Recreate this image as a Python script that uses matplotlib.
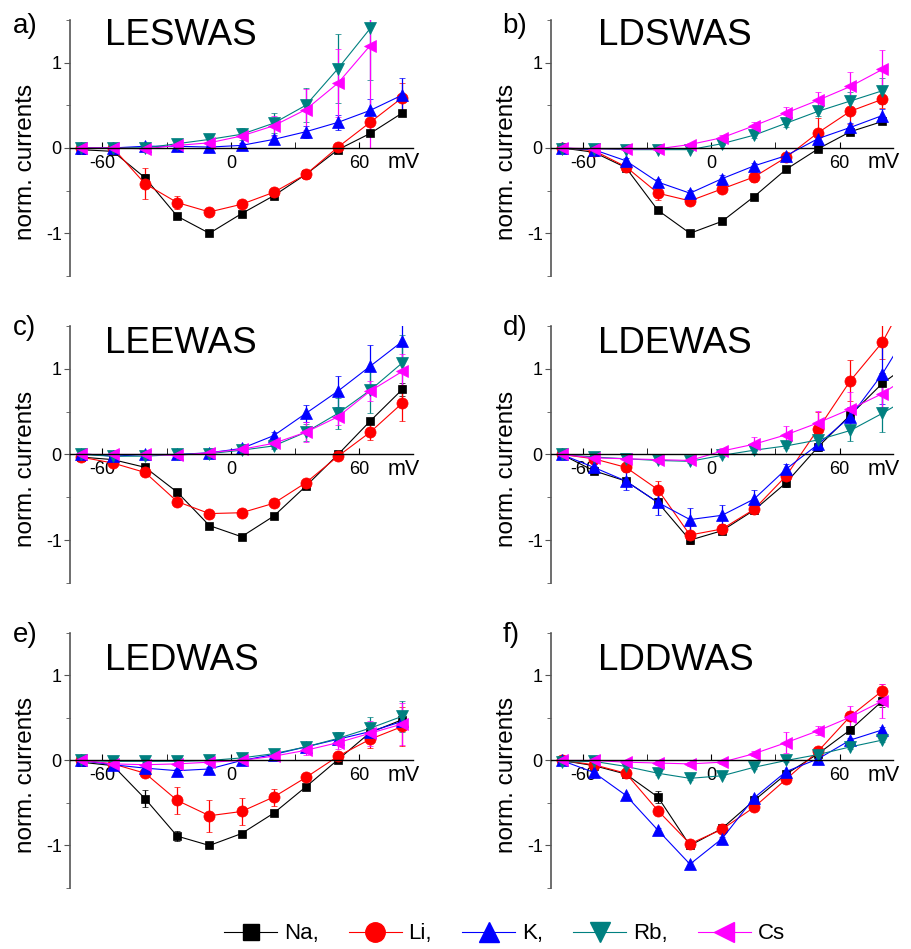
import matplotlib
matplotlib.use('Agg')
import matplotlib.pyplot as plt
from matplotlib.lines import Line2D
from matplotlib.ticker import MultipleLocator

plt.rcParams['font.family'] = ['Liberation Sans', 'DejaVu Sans']
plt.rcParams['axes.unicode_minus'] = False

# membrane potential steps (mV)
volts = [-70, -55, -40, -25, -10, 5, 20, 35, 50, 65, 80]
volts_d = volts + [95]  # panel d lines run past the right edge

ions = ['Na', 'Li', 'K', 'Rb', 'Cs']
labels = ['Na,', 'Li,', 'K,', 'Rb,', 'Cs']
colors = ['black', '#FF0000', '#0000FF', '#008080', '#FF00FF']
markers = ['s', 'o', '^', 'v', '<']
msizes = [6, 8, 8, 8, 8]

titles = ['LESWAS', 'LDSWAS', 'LEEWAS', 'LDEWAS', 'LEDWAS', 'LDDWAS']
tags = ['a)', 'b)', 'c)', 'd)', 'e)', 'f)']

# a) LESWAS
a_mean = {
    'Na': [-0.02, -0.04, -0.35, -0.80, -1.00, -0.77, -0.56, -0.31, -0.02, 0.17, 0.41],
    'Li': [0.0, 0.0, -0.42, -0.64, -0.75, -0.66, -0.52, -0.31, 0.01, 0.30, 0.59],
    'K': [0.0, 0.0, 0.02, 0.02, 0.01, 0.03, 0.10, 0.19, 0.30, 0.44, 0.62],
    'Rb': [0.0, 0.0, 0.0, 0.05, 0.10, 0.16, 0.29, 0.50, 0.93, 1.40],
    'Cs': [0.0, 0.0, -0.01, 0.03, 0.06, 0.14, 0.26, 0.45, 0.76, 1.20],
}
a_err = {
    'Na': [0.02, 0.02, 0.05, 0.03, 0.02, 0.02, 0.02, 0.03, 0.02, 0.03, 0.03],
    'Li': [0.02, 0.02, 0.18, 0.08, 0.03, 0.03, 0.04, 0.05, 0.03, 0.10, 0.17],
    'K': [0.02, 0.02, 0.02, 0.02, 0.02, 0.03, 0.05, 0.07, 0.09, 0.13, 0.20],
    'Rb': [0.02, 0.02, 0.02, 0.04, 0.05, 0.07, 0.12, 0.20, 0.40, 0.60],
    'Cs': [0.02, 0.02, 0.02, 0.03, 0.04, 0.08, 0.12, 0.24, 0.40, 1.20],
}

# b) LDSWAS
b_mean = {
    'Na': [0.0, -0.05, -0.23, -0.73, -1.00, -0.86, -0.57, -0.25, -0.01, 0.19, 0.31],
    'Li': [0.0, -0.03, -0.22, -0.53, -0.62, -0.48, -0.34, -0.11, 0.18, 0.43, 0.57],
    'K': [0.0, -0.02, -0.15, -0.40, -0.53, -0.36, -0.21, -0.09, 0.11, 0.24, 0.38],
    'Rb': [-0.01, -0.01, -0.02, -0.02, -0.02, 0.05, 0.15, 0.29, 0.43, 0.55, 0.67],
    'Cs': [0.0, -0.01, -0.01, -0.01, 0.04, 0.12, 0.26, 0.41, 0.56, 0.72, 0.92],
}
b_err = {
    'Na': [0.02, 0.02, 0.03, 0.03, 0.02, 0.02, 0.02, 0.02, 0.02, 0.03, 0.03],
    'Li': [0.02, 0.02, 0.04, 0.08, 0.04, 0.04, 0.06, 0.04, 0.17, 0.15, 0.10],
    'K': [0.02, 0.02, 0.03, 0.04, 0.04, 0.04, 0.03, 0.03, 0.05, 0.05, 0.08],
    'Rb': [0.02, 0.02, 0.02, 0.02, 0.02, 0.02, 0.03, 0.04, 0.06, 0.10, 0.15],
    'Cs': [0.02, 0.02, 0.02, 0.02, 0.02, 0.03, 0.04, 0.07, 0.10, 0.17, 0.23],
}

# c) LEEWAS
c_mean = {
    'Na': [-0.03, -0.06, -0.15, -0.44, -0.83, -0.96, -0.72, -0.37, 0.0, 0.39, 0.76],
    'Li': [-0.03, -0.10, -0.21, -0.55, -0.69, -0.68, -0.57, -0.33, -0.02, 0.26, 0.60],
    'K': [0.01, -0.02, 0.0, 0.0, 0.02, 0.07, 0.22, 0.48, 0.74, 1.03, 1.32],
    'Rb': [0.0, -0.02, -0.02, 0.0, 0.01, 0.05, 0.10, 0.26, 0.48, 0.75, 1.07],
    'Cs': [0.0, 0.0, 0.0, -0.01, 0.02, 0.06, 0.13, 0.26, 0.44, 0.74, 0.97],
}
c_err = {
    'Na': [0.02, 0.02, 0.03, 0.04, 0.03, 0.02, 0.02, 0.03, 0.02, 0.04, 0.08],
    'Li': [0.02, 0.02, 0.04, 0.04, 0.02, 0.02, 0.02, 0.03, 0.03, 0.09, 0.21],
    'K': [0.02, 0.02, 0.02, 0.02, 0.02, 0.03, 0.04, 0.10, 0.18, 0.25, 0.20],
    'Rb': [0.02, 0.02, 0.02, 0.02, 0.02, 0.03, 0.04, 0.10, 0.18, 0.26, 0.33],
    'Cs': [0.02, 0.02, 0.02, 0.02, 0.02, 0.03, 0.05, 0.12, 0.10, 0.12, 0.20],
}

# d) LDEWAS (last value sits beyond the x range)
d_mean = {
    'Na': [0.0, -0.19, -0.31, -0.56, -1.00, -0.89, -0.65, -0.33, 0.09, 0.46, 0.83, 1.10],
    'Li': [0.0, -0.05, -0.15, -0.41, -0.94, -0.87, -0.64, -0.25, 0.30, 0.86, 1.31, 2.00],
    'K': [0.0, -0.15, -0.31, -0.56, -0.76, -0.71, -0.52, -0.17, 0.12, 0.44, 0.94, 1.55],
    'Rb': [0.0, -0.03, -0.05, -0.07, -0.08, -0.01, 0.05, 0.10, 0.17, 0.28, 0.48, 0.70],
    'Cs': [0.0, -0.04, -0.05, -0.06, -0.07, 0.04, 0.12, 0.23, 0.37, 0.53, 0.71, 0.96],
}
d_err = {
    'Na': [0.02, 0.03, 0.04, 0.05, 0.05, 0.04, 0.04, 0.05, 0.04, 0.08, 0.12, 0.0],
    'Li': [0.02, 0.02, 0.03, 0.10, 0.10, 0.06, 0.06, 0.06, 0.20, 0.24, 0.20, 0.0],
    'K': [0.02, 0.04, 0.11, 0.15, 0.13, 0.12, 0.10, 0.06, 0.08, 0.12, 0.35, 0.0],
    'Rb': [0.02, 0.02, 0.02, 0.02, 0.02, 0.02, 0.03, 0.03, 0.05, 0.12, 0.22, 0.0],
    'Cs': [0.02, 0.02, 0.02, 0.02, 0.02, 0.03, 0.08, 0.10, 0.14, 0.20, 0.15, 0.0],
}

# e) LEDWAS
e_mean = {
    'Na': [-0.02, -0.06, -0.45, -0.89, -1.00, -0.86, -0.62, -0.31, 0.01, 0.33, 0.48],
    'Li': [0.0, -0.04, -0.15, -0.47, -0.65, -0.60, -0.43, -0.20, 0.05, 0.25, 0.40],
    'K': [0.0, -0.05, -0.09, -0.12, -0.10, 0.0, 0.07, 0.16, 0.25, 0.34, 0.46],
    'Rb': [0.0, -0.01, -0.01, -0.01, 0.0, 0.03, 0.08, 0.16, 0.26, 0.38, 0.52],
    'Cs': [0.0, -0.04, -0.05, -0.04, -0.02, 0.0, 0.05, 0.12, 0.21, 0.32, 0.43],
}
e_err = {
    'Na': [0.02, 0.02, 0.10, 0.06, 0.03, 0.03, 0.03, 0.03, 0.03, 0.05, 0.06],
    'Li': [0.02, 0.02, 0.04, 0.16, 0.19, 0.16, 0.10, 0.04, 0.05, 0.10, 0.23],
    'K': [0.02, 0.02, 0.02, 0.02, 0.02, 0.02, 0.03, 0.04, 0.05, 0.06, 0.08],
    'Rb': [0.02, 0.02, 0.02, 0.02, 0.02, 0.02, 0.03, 0.04, 0.08, 0.13, 0.18],
    'Cs': [0.02, 0.02, 0.02, 0.02, 0.02, 0.02, 0.03, 0.05, 0.08, 0.15, 0.25],
}

# f) LDDWAS
f_mean = {
    'Na': [0.0, -0.06, -0.16, -0.43, -1.00, -0.80, -0.47, -0.16, 0.08, 0.36, 0.70],
    'Li': [0.0, -0.05, -0.15, -0.59, -0.98, -0.81, -0.55, -0.22, 0.11, 0.52, 0.82],
    'K': [0.0, -0.14, -0.41, -0.82, -1.22, -0.92, -0.44, -0.13, 0.02, 0.24, 0.36],
    'Rb': [-0.02, -0.01, -0.07, -0.15, -0.21, -0.18, -0.08, 0.0, 0.07, 0.16, 0.24],
    'Cs': [0.0, 0.0, -0.02, -0.03, -0.04, -0.02, 0.08, 0.21, 0.35, 0.51, 0.70],
}
f_err = {
    'Na': [0.02, 0.02, 0.03, 0.07, 0.03, 0.03, 0.03, 0.03, 0.03, 0.04, 0.07],
    'Li': [0.02, 0.02, 0.02, 0.03, 0.03, 0.03, 0.03, 0.03, 0.03, 0.04, 0.08],
    'K': [0.02, 0.02, 0.02, 0.02, 0.02, 0.02, 0.02, 0.02, 0.02, 0.02, 0.03],
    'Rb': [0.02, 0.02, 0.02, 0.02, 0.02, 0.02, 0.02, 0.02, 0.02, 0.02, 0.02],
    'Cs': [0.02, 0.02, 0.02, 0.02, 0.02, 0.02, 0.03, 0.12, 0.05, 0.13, 0.20],
}

means = [a_mean, b_mean, c_mean, d_mean, e_mean, f_mean]
errs = [a_err, b_err, c_err, d_err, e_err, f_err]

# axes boxes (fig fractions) and title spot (data coords)
col_left = [0.0768, 0.6042]
col_w = [0.3761, 0.375]
row_bottom = [0.7092, 0.3857, 0.0643]
row_h = [0.2698, 0.2708, 0.2687]
title_y = [1.21, 1.18, 1.06]
title_x = [-58.6, -52.8]
tag_y = [0.965, 0.647, 0.324]
tag_x = [0.014, 0.551]

fig = plt.figure(figsize=(9.12, 9.49), dpi=100)

for i in range(6):
    r, c = i // 2, i % 2
    ax = fig.add_axes([col_left[c], row_bottom[r], col_w[c], row_h[r]])
    xs_all = volts_d if i == 3 else volts
    for k, ion in enumerate(ions):
        y = means[i][ion]
        e = errs[i][ion]
        xs = xs_all[:len(y)]
        ax.errorbar(xs, y, yerr=e, color=colors[k], marker=markers[k],
                    markersize=msizes[k], lw=0.8, elinewidth=0.9,
                    capsize=2.5, capthick=0.9, markeredgewidth=0.5)
    ax.set_xlim(-75, 85)
    ax.set_ylim(-1.5, 1.5)
    ax.spines['top'].set_visible(False)
    ax.spines['right'].set_visible(False)
    ax.spines['bottom'].set_position(('data', 0))
    ax.spines['bottom'].set_linewidth(1.0)
    ax.spines['left'].set_color('#555555')
    ax.spines['left'].set_linewidth(1.2)
    ax.xaxis.set_major_locator(MultipleLocator(60))
    ax.xaxis.set_minor_locator(MultipleLocator(30))
    ax.yaxis.set_major_locator(MultipleLocator(1))
    ax.yaxis.set_minor_locator(MultipleLocator(0.5))
    ax.tick_params(axis='x', which='both', direction='in', length=4,
                   labelsize=13, pad=5)
    ax.tick_params(axis='y', which='major', direction='out', length=4,
                   color='#555555', labelsize=13, pad=2)
    ax.tick_params(axis='y', which='minor', direction='out', length=3,
                   color='#555555')
    ax.patch.set_alpha(0)
    ax.text(73, -0.05, 'mV', fontsize=15.5, ha='left', va='top')
    ax.text(title_x[c], title_y[r], titles[i], fontsize=26.5,
            ha='left', va='baseline')
    ax.text(-0.128, 0.445, 'norm. currents', transform=ax.transAxes,
            rotation=90, ha='center', va='center', fontsize=17.5)
    fig.text(tag_x[c], tag_y[r], tags[i], fontsize=20, ha='left',
             va='baseline')

handles = []
leg_sizes = [12, 14, 15, 15, 15]
for k in range(5):
    handles.append(Line2D([], [], color=colors[k], marker=markers[k],
                          markersize=leg_sizes[k], lw=0.8))
fig.legend(handles, labels, loc='center', bbox_to_anchor=(0.553, 0.016),
           ncol=5, frameon=False, fontsize=16, handlelength=2.4,
           handletextpad=0.3, columnspacing=1.35, borderpad=0)

fig.savefig('out.png', dpi=100)
